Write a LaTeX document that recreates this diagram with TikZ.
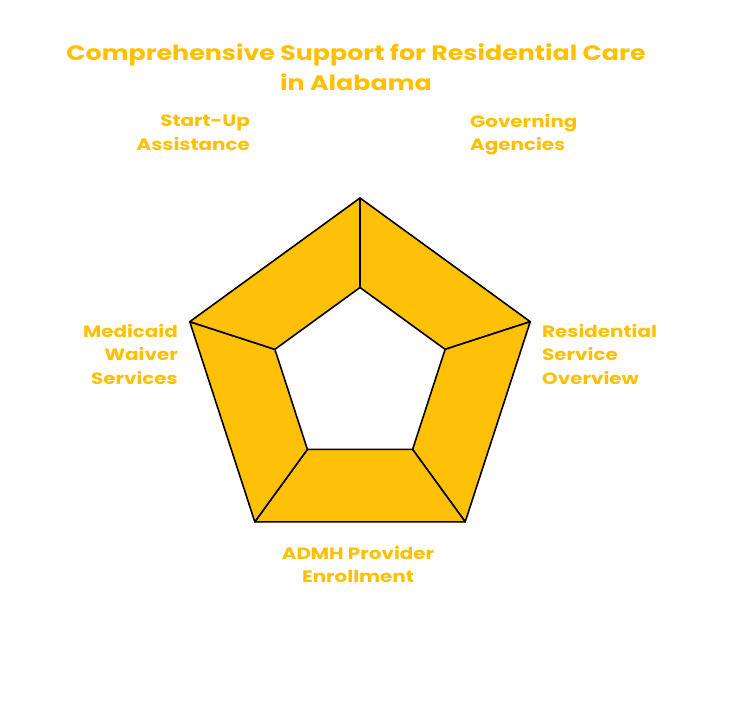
\documentclass[tikz,border=0pt]{standalone}
\usepackage{fontspec}
\setmainfont{Poppins}[FakeStretch=1.21]
\usepackage{tikz}
\usetikzlibrary{positioning,calc}
\definecolor{carefill}{RGB}{255,193,7}
\definecolor{caretext}{RGB}{255,192,0}

\begin{document}
\begin{tikzpicture}[
    x=1bp, y=1bp,
    seg/.style={draw=black, fill=carefill, line width=1.6bp, line join=round},
    lbl/.style={text=caretext, font=\fontsize{16.5}{23.5}\selectfont\bfseries, inner sep=0pt},
    ttl/.style={text=caretext, font=\fontsize{21}{30}\selectfont\bfseries, align=center, inner sep=0pt}
]
    \useasboundingbox (0,-719) rectangle (733,0);
    \coordinate (c) at (360,-377);

    % outer and inner corners of the ring
    \foreach \k in {1,...,5} {
        \coordinate (o\k) at ($(c)+({90-72*(\k-1)}:179)$);
        \coordinate (i\k) at ($(c)+({90-72*(\k-1)}:89.5)$);
    }
    \foreach \k/\n in {1/2,2/3,3/4,4/5,5/1}
        \draw[seg] (o\k) -- (o\n) -- (i\n) -- (i\k) -- cycle;

    \node[ttl] (title) at (356,-67) {Comprehensive Support for Residential Care\\in Alabama};

    \node[lbl, align=right, anchor=north east] (startup) at (250,-115) {Start-Up\\Assistance};
    \node[lbl, align=left, anchor=north west] (govern) at (470,-114) {Governing\\Agencies};
    \node[lbl, align=left, anchor=north west] (resid) at (542,-324) {Residential\\Service\\Overview};
    \node[lbl, align=center, anchor=north] (admh) at (358,-546) {ADMH Provider\\Enrollment};
    \node[lbl, align=right, anchor=north east] (medicaid) at (178,-324) {Medicaid\\Waiver\\Services};
\end{tikzpicture}
\end{document}
